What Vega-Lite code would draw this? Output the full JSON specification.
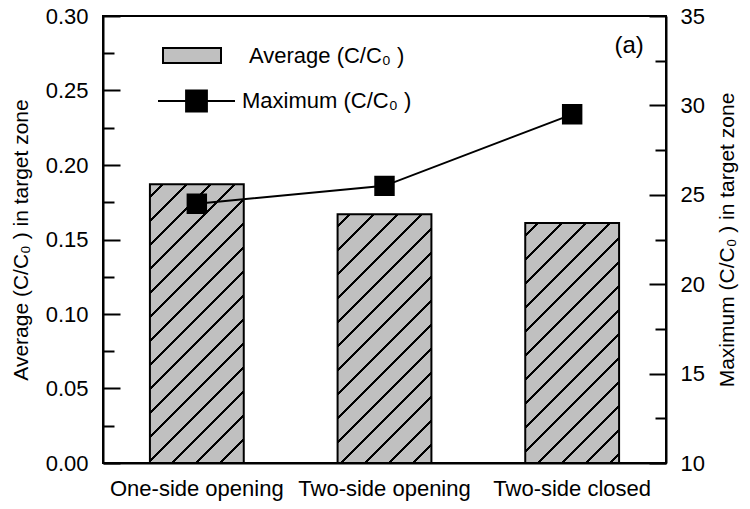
{
  "$schema": "https://vega.github.io/schema/vega-lite/v6.json",
  "width": 563,
  "height": 447,
  "autosize": "none",
  "padding": {"left": 103, "top": 16, "right": 84, "bottom": 46},
  "background": "white",
  "config": {
    "font": "Liberation Sans",
    "view": {"stroke": "black", "strokeWidth": 2},
    "axis": {
      "domainColor": "black", "domainWidth": 2, "tickColor": "black", "tickWidth": 2,
      "labelColor": "black", "titleColor": "black", "labelFont": "Liberation Sans",
      "titleFont": "Liberation Sans", "titleFontWeight": "normal", "grid": false
    },
    "legend": {
      "labelFont": "Liberation Sans", "labelFontSize": 22, "labelColor": "black",
      "padding": 0, "labelLimit": 0
    }
  },
  "data": {
    "values": [
      {"cat": "One-side opening", "avg": 0.187, "max": 24.5},
      {"cat": "Two-side opening", "avg": 0.167, "max": 25.5},
      {"cat": "Two-side closed", "avg": 0.161, "max": 29.5}
    ]
  },
  "encoding": {
    "x": {
      "field": "cat", "type": "nominal", "sort": null,
      "scale": {"paddingInner": 0.5, "paddingOuter": 0.25},
      "axis": {"title": null, "labelAngle": 0, "ticks": false, "labelFontSize": 22, "labelPadding": 15, "labelLimit": 0}
    }
  },
  "layer": [
    {
      "mark": {"type": "bar", "stroke": "black", "strokeWidth": 2},
      "encoding": {
        "y": {
          "field": "avg", "type": "quantitative",
          "scale": {"domain": [0, 0.3], "nice": false, "zero": true},
          "axis": {
            "orient": "left", "values": [0, 0.05, 0.1, 0.15, 0.2, 0.25, 0.3], "format": ".2f",
            "tickSize": -17, "labelFontSize": 22, "labelPadding": 32,
            "title": "Average (C/C₀ ) in target zone", "titleFontSize": 21, "titlePadding": 14
          }
        },
        "fill": {
          "datum": "Average (C/C₀ )",
          "scale": {"range": ["#c0c0c0"]},
          "legend": {
            "orient": "none", "legendX": 59, "legendY": 9.5, "title": null,
            "symbolType": "M-1,-0.2586L1,-0.2586L1,0.2586L-1,0.2586Z", "symbolSize": 3364,
            "symbolStrokeColor": "black", "symbolStrokeWidth": 2, "labelOffset": 27
          },
          "condition": [
            {"test": "datum.cat === 'One-side opening'", "value": {"gradient": "linear", "x1": 0, "y1": 0, "x2": 0.4042, "y2": 1.2006, "stops": [
              {"offset": 0, "color": "#c0c0c0"},
              {"offset": 0.03, "color": "#c0c0c0"}, {"offset": 0.03, "color": "#000"}, {"offset": 0.0376, "color": "#000"}, {"offset": 0.0376, "color": "#c0c0c0"},
              {"offset": 0.0944, "color": "#c0c0c0"}, {"offset": 0.0944, "color": "#000"}, {"offset": 0.102, "color": "#000"}, {"offset": 0.102, "color": "#c0c0c0"},
              {"offset": 0.1588, "color": "#c0c0c0"}, {"offset": 0.1588, "color": "#000"}, {"offset": 0.1664, "color": "#000"}, {"offset": 0.1664, "color": "#c0c0c0"},
              {"offset": 0.2232, "color": "#c0c0c0"}, {"offset": 0.2232, "color": "#000"}, {"offset": 0.2308, "color": "#000"}, {"offset": 0.2308, "color": "#c0c0c0"},
              {"offset": 0.2876, "color": "#c0c0c0"}, {"offset": 0.2876, "color": "#000"}, {"offset": 0.2952, "color": "#000"}, {"offset": 0.2952, "color": "#c0c0c0"},
              {"offset": 0.352, "color": "#c0c0c0"}, {"offset": 0.352, "color": "#000"}, {"offset": 0.3596, "color": "#000"}, {"offset": 0.3596, "color": "#c0c0c0"},
              {"offset": 0.4164, "color": "#c0c0c0"}, {"offset": 0.4164, "color": "#000"}, {"offset": 0.424, "color": "#000"}, {"offset": 0.424, "color": "#c0c0c0"},
              {"offset": 0.4808, "color": "#c0c0c0"}, {"offset": 0.4808, "color": "#000"}, {"offset": 0.4884, "color": "#000"}, {"offset": 0.4884, "color": "#c0c0c0"},
              {"offset": 0.5452, "color": "#c0c0c0"}, {"offset": 0.5452, "color": "#000"}, {"offset": 0.5528, "color": "#000"}, {"offset": 0.5528, "color": "#c0c0c0"},
              {"offset": 0.6096, "color": "#c0c0c0"}, {"offset": 0.6096, "color": "#000"}, {"offset": 0.6172, "color": "#000"}, {"offset": 0.6172, "color": "#c0c0c0"},
              {"offset": 0.674, "color": "#c0c0c0"}, {"offset": 0.674, "color": "#000"}, {"offset": 0.6816, "color": "#000"}, {"offset": 0.6816, "color": "#c0c0c0"},
              {"offset": 0.7384, "color": "#c0c0c0"}, {"offset": 0.7384, "color": "#000"}, {"offset": 0.746, "color": "#000"}, {"offset": 0.746, "color": "#c0c0c0"},
              {"offset": 0.8028, "color": "#c0c0c0"}, {"offset": 0.8028, "color": "#000"}, {"offset": 0.8104, "color": "#000"}, {"offset": 0.8104, "color": "#c0c0c0"},
              {"offset": 0.8672, "color": "#c0c0c0"}, {"offset": 0.8672, "color": "#000"}, {"offset": 0.8748, "color": "#000"}, {"offset": 0.8748, "color": "#c0c0c0"},
              {"offset": 0.9316, "color": "#c0c0c0"}, {"offset": 0.9316, "color": "#000"}, {"offset": 0.9392, "color": "#000"}, {"offset": 0.9392, "color": "#c0c0c0"},
              {"offset": 1, "color": "#c0c0c0"}
            ]}},
            {"test": "datum.cat === 'Two-side opening'", "value": {"gradient": "linear", "x1": 0, "y1": 0, "x2": 0.4941, "y2": 1.3104, "stops": [
              {"offset": 0, "color": "#c0c0c0"},
              {"offset": 0.03, "color": "#c0c0c0"}, {"offset": 0.03, "color": "#000"}, {"offset": 0.0376, "color": "#000"}, {"offset": 0.0376, "color": "#c0c0c0"},
              {"offset": 0.0944, "color": "#c0c0c0"}, {"offset": 0.0944, "color": "#000"}, {"offset": 0.102, "color": "#000"}, {"offset": 0.102, "color": "#c0c0c0"},
              {"offset": 0.1588, "color": "#c0c0c0"}, {"offset": 0.1588, "color": "#000"}, {"offset": 0.1664, "color": "#000"}, {"offset": 0.1664, "color": "#c0c0c0"},
              {"offset": 0.2232, "color": "#c0c0c0"}, {"offset": 0.2232, "color": "#000"}, {"offset": 0.2308, "color": "#000"}, {"offset": 0.2308, "color": "#c0c0c0"},
              {"offset": 0.2876, "color": "#c0c0c0"}, {"offset": 0.2876, "color": "#000"}, {"offset": 0.2952, "color": "#000"}, {"offset": 0.2952, "color": "#c0c0c0"},
              {"offset": 0.352, "color": "#c0c0c0"}, {"offset": 0.352, "color": "#000"}, {"offset": 0.3596, "color": "#000"}, {"offset": 0.3596, "color": "#c0c0c0"},
              {"offset": 0.4164, "color": "#c0c0c0"}, {"offset": 0.4164, "color": "#000"}, {"offset": 0.424, "color": "#000"}, {"offset": 0.424, "color": "#c0c0c0"},
              {"offset": 0.4808, "color": "#c0c0c0"}, {"offset": 0.4808, "color": "#000"}, {"offset": 0.4884, "color": "#000"}, {"offset": 0.4884, "color": "#c0c0c0"},
              {"offset": 0.5452, "color": "#c0c0c0"}, {"offset": 0.5452, "color": "#000"}, {"offset": 0.5528, "color": "#000"}, {"offset": 0.5528, "color": "#c0c0c0"},
              {"offset": 0.6096, "color": "#c0c0c0"}, {"offset": 0.6096, "color": "#000"}, {"offset": 0.6172, "color": "#000"}, {"offset": 0.6172, "color": "#c0c0c0"},
              {"offset": 0.674, "color": "#c0c0c0"}, {"offset": 0.674, "color": "#000"}, {"offset": 0.6816, "color": "#000"}, {"offset": 0.6816, "color": "#c0c0c0"},
              {"offset": 0.7384, "color": "#c0c0c0"}, {"offset": 0.7384, "color": "#000"}, {"offset": 0.746, "color": "#000"}, {"offset": 0.746, "color": "#c0c0c0"},
              {"offset": 0.8028, "color": "#c0c0c0"}, {"offset": 0.8028, "color": "#000"}, {"offset": 0.8104, "color": "#000"}, {"offset": 0.8104, "color": "#c0c0c0"},
              {"offset": 0.8672, "color": "#c0c0c0"}, {"offset": 0.8672, "color": "#000"}, {"offset": 0.8748, "color": "#000"}, {"offset": 0.8748, "color": "#c0c0c0"},
              {"offset": 0.9316, "color": "#c0c0c0"}, {"offset": 0.9316, "color": "#000"}, {"offset": 0.9392, "color": "#000"}, {"offset": 0.9392, "color": "#c0c0c0"},
              {"offset": 1, "color": "#c0c0c0"}
            ]}},
            {"test": "datum.cat === 'Two-side closed'", "value": {"gradient": "linear", "x1": 0, "y1": 0, "x2": 0.5264, "y2": 1.3465, "stops": [
              {"offset": 0, "color": "#c0c0c0"},
              {"offset": 0.03, "color": "#c0c0c0"}, {"offset": 0.03, "color": "#000"}, {"offset": 0.0376, "color": "#000"}, {"offset": 0.0376, "color": "#c0c0c0"},
              {"offset": 0.0944, "color": "#c0c0c0"}, {"offset": 0.0944, "color": "#000"}, {"offset": 0.102, "color": "#000"}, {"offset": 0.102, "color": "#c0c0c0"},
              {"offset": 0.1588, "color": "#c0c0c0"}, {"offset": 0.1588, "color": "#000"}, {"offset": 0.1664, "color": "#000"}, {"offset": 0.1664, "color": "#c0c0c0"},
              {"offset": 0.2232, "color": "#c0c0c0"}, {"offset": 0.2232, "color": "#000"}, {"offset": 0.2308, "color": "#000"}, {"offset": 0.2308, "color": "#c0c0c0"},
              {"offset": 0.2876, "color": "#c0c0c0"}, {"offset": 0.2876, "color": "#000"}, {"offset": 0.2952, "color": "#000"}, {"offset": 0.2952, "color": "#c0c0c0"},
              {"offset": 0.352, "color": "#c0c0c0"}, {"offset": 0.352, "color": "#000"}, {"offset": 0.3596, "color": "#000"}, {"offset": 0.3596, "color": "#c0c0c0"},
              {"offset": 0.4164, "color": "#c0c0c0"}, {"offset": 0.4164, "color": "#000"}, {"offset": 0.424, "color": "#000"}, {"offset": 0.424, "color": "#c0c0c0"},
              {"offset": 0.4808, "color": "#c0c0c0"}, {"offset": 0.4808, "color": "#000"}, {"offset": 0.4884, "color": "#000"}, {"offset": 0.4884, "color": "#c0c0c0"},
              {"offset": 0.5452, "color": "#c0c0c0"}, {"offset": 0.5452, "color": "#000"}, {"offset": 0.5528, "color": "#000"}, {"offset": 0.5528, "color": "#c0c0c0"},
              {"offset": 0.6096, "color": "#c0c0c0"}, {"offset": 0.6096, "color": "#000"}, {"offset": 0.6172, "color": "#000"}, {"offset": 0.6172, "color": "#c0c0c0"},
              {"offset": 0.674, "color": "#c0c0c0"}, {"offset": 0.674, "color": "#000"}, {"offset": 0.6816, "color": "#000"}, {"offset": 0.6816, "color": "#c0c0c0"},
              {"offset": 0.7384, "color": "#c0c0c0"}, {"offset": 0.7384, "color": "#000"}, {"offset": 0.746, "color": "#000"}, {"offset": 0.746, "color": "#c0c0c0"},
              {"offset": 0.8028, "color": "#c0c0c0"}, {"offset": 0.8028, "color": "#000"}, {"offset": 0.8104, "color": "#000"}, {"offset": 0.8104, "color": "#c0c0c0"},
              {"offset": 0.8672, "color": "#c0c0c0"}, {"offset": 0.8672, "color": "#000"}, {"offset": 0.8748, "color": "#000"}, {"offset": 0.8748, "color": "#c0c0c0"},
              {"offset": 0.9316, "color": "#c0c0c0"}, {"offset": 0.9316, "color": "#000"}, {"offset": 0.9392, "color": "#000"}, {"offset": 0.9392, "color": "#c0c0c0"},
              {"offset": 1, "color": "#c0c0c0"}
            ]}}
          ]
        }
      }
    },
    {
      "mark": {"type": "line", "strokeWidth": 2, "point": {"shape": "square", "size": 340, "filled": true, "color": "black"}},
      "encoding": {
        "y": {
          "field": "max", "type": "quantitative",
          "scale": {"domain": [10, 35], "nice": false, "zero": false},
          "axis": {
            "orient": "right", "values": [10, 15, 20, 25, 30, 35],
            "tickSize": -17, "labelFontSize": 22, "labelPadding": 31,
            "title": "Maximum (C/C₀ ) in target zone", "titleFontSize": 21, "titlePadding": 12,
            "titleAngle": 270, "titleBaseline": "top"
          }
        },
        "stroke": {
          "datum": "Maximum (C/C₀ )",
          "scale": {"range": ["black"]},
          "legend": {
            "orient": "none", "legendX": 54, "legendY": 45.5, "title": null,
            "symbolType": "M-1,0L-0.27,0M0.27,0L1,0M-0.27,-0.27L0.27,-0.27L0.27,0.27L-0.27,0.27Z",
            "symbolSize": 5929, "symbolStrokeColor": "black", "symbolFillColor": "black",
            "symbolStrokeWidth": 2, "labelOffset": 6
          }
        }
      }
    },
    {
      "mark": {"type": "point", "opacity": 0},
      "encoding": {
        "y": {
          "field": "avg", "type": "quantitative",
          "scale": {"domain": [0, 0.3], "nice": false},
          "axis": {"orient": "left", "values": [0.025, 0.075, 0.125, 0.175, 0.225, 0.275], "labels": false, "domain": false, "tickSize": -11, "title": null}
        }
      }
    },
    {
      "mark": {"type": "point", "opacity": 0},
      "encoding": {
        "y": {
          "field": "max", "type": "quantitative",
          "scale": {"domain": [10, 35], "nice": false, "zero": false},
          "axis": {"orient": "right", "values": [12.5, 17.5, 22.5, 27.5, 32.5], "labels": false, "domain": false, "tickSize": -11, "title": null}
        }
      }
    },
    {
      "data": {"values": [{"cat": "Two-side closed", "label": "(a)", "pos": 0.28}]},
      "mark": {"type": "text", "fontSize": 24, "fontWeight": "normal", "font": "Liberation Sans", "color": "black", "dx": 57},
      "encoding": {
        "y": {"field": "pos", "type": "quantitative", "scale": {"domain": [0, 0.3], "nice": false}, "axis": null},
        "text": {"field": "label"}
      }
    }
  ],
  "resolve": {"scale": {"y": "independent"}}
}
